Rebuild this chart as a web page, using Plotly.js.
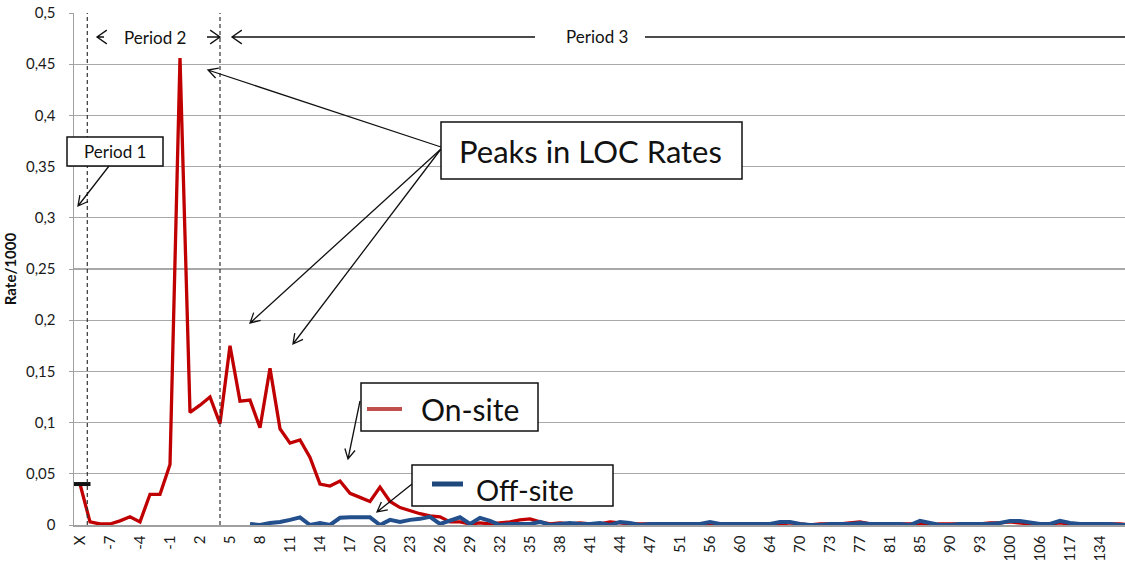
<!DOCTYPE html>
<html>
<head>
<meta charset="utf-8">
<script src="https://cdn.plot.ly/plotly-3.0.1.min.js"></script>
<style>html,body{margin:0;padding:0;background:#fff;}#chart{width:1125px;height:566px;}</style>
</head>
<body>
<div id="chart"></div>
<script>
// ---- data ----
const weekLabels = ["X","-9","-8","-7","-6","-5","-4","-3","-2","-1","0","1","2","3","4","5","6","7","8","9","10",
  "11","12","13","14","15","16","17","18","19","20","21","22","23","24","25","26","27","28","29","30",
  "31","32","33","34","35","36","37","38","39","40","41","42","43","44","45","46","47","48","49","51",
  "52","54","56","57","58","60","61","62","64","66","68","70","71","72","73","75","76","77","78","79",
  "81","82","83","85","87","88","90","91","92","93","95","97","100","102","104","106","110","113","117","121",
  "127","134","140","148","156"];
const onSite = [0.040,0.003,0.001,0.001,0.004,0.008,0.003,0.030,0.030,0.059,0.456,0.110,0.117,0.125,0.099,0.175,0.121,0.122,0.095,0.153,
  0.094,0.080,0.083,0.066,0.040,0.038,0.043,0.031,0.027,0.023,0.037,0.023,0.017,0.014,0.011,0.009,0.008,0.003,0.003,0.001,
  0.002,0.001,0.002,0.003,0.005,0.006,0.003,0.001,0.002,0.001,0.002,0.001,0.001,0.003,0.002,0.001,0.001,0.001,0.000,0.001,
  0.001,0.000,0.001,0.001,0.000,0.001,0.001,0.000,0.001,0.001,0.001,0.002,0.001,0.000,0.001,0.001,0.001,0.002,0.003,0.001,
  0.001,0.000,0.001,0.001,0.001,0.000,0.001,0.001,0.001,0.001,0.001,0.002,0.002,0.003,0.002,0.001,0.001,0.001,0.002,0.001,
  0.001,0.001,0.001,0.001,0.001,0.000];
const offSite = [null,null,null,null,null,null,null,null,null,null,null,null,null,null,null,null,null,0.001,0.000,0.002,
  0.003,0.005,0.0075,0.000,0.002,0.000,0.007,0.0075,0.0075,0.0075,0.000,0.005,0.003,0.005,0.006,0.008,0.001,0.004,0.0075,0.001,
  0.007,0.004,0.000,0.001,0.001,0.001,0.003,0.000,0.001,0.002,0.001,0.001,0.002,0.000,0.003,0.002,0.000,0.001,0.001,0.001,
  0.001,0.001,0.001,0.003,0.001,0.001,0.001,0.001,0.001,0.001,0.003,0.003,0.001,0.000,0.000,0.001,0.001,0.001,0.002,0.001,
  0.001,0.001,0.001,0.000,0.004,0.002,0.000,0.000,0.001,0.001,0.001,0.001,0.002,0.004,0.004,0.002,0.001,0.001,0.004,0.002,
  0.001,0.001,0.001,0.001,0.000,0.000];
const period1Label = ["X"];
const period1Rate = [0.04];
const yTicks = [0,0.05,0.1,0.15,0.2,0.25,0.3,0.35,0.4,0.45,0.5];
const xTicks = weekLabels.filter((_, i) => i % 3 === 0);
const periodBoundaries = [0.73, 14];

// ---- layout helpers (pixel -> paper) ----
const L = 74, T = 13, R = 0, B = 41;
const W = 1125 - L - R, H = 566 - T - B;
const px = x => (x - L) / W;
const py = y => 1 - (y - T) / H;

function arrow(x0, y0, x1, y1, len, half) {
  const a = Math.atan2(y1 - y0, x1 - x0);
  const phi = half * Math.PI / 180;
  const h1x = x1 - len * Math.cos(a - phi), h1y = y1 - len * Math.sin(a - phi);
  const h2x = x1 - len * Math.cos(a + phi), h2y = y1 - len * Math.sin(a + phi);
  return {
    type: 'path', xref: 'paper', yref: 'paper', layer: 'above',
    path: `M${px(x0)},${py(y0)} L${px(x1)},${py(y1)} M${px(h1x)},${py(h1y)} L${px(x1)},${py(y1)} L${px(h2x)},${py(h2y)}`,
    line: {color: '#111', width: 1.3}
  };
}
function box(x0, y0, x1, y1) {
  return {type: 'rect', xref: 'paper', yref: 'paper', layer: 'above',
    x0: px(x0), x1: px(x1), y0: py(y1), y1: py(y0),
    fillcolor: '#fff', line: {color: '#111', width: 1.5}};
}
function seg(x0, y0, x1, y1, color, width) {
  return {type: 'line', xref: 'paper', yref: 'paper', layer: 'above',
    x0: px(x0), x1: px(x1), y0: py(y0), y1: py(y1), line: {color: color, width: width}};
}
function label(x, y, text, size) {
  return {xref: 'paper', yref: 'paper', x: px(x), y: py(y), text: text, showarrow: false,
    xanchor: 'center', yanchor: 'middle', font: {family: 'Lato, sans-serif', size: size, color: '#111'}};
}

const traces = [
  {x: weekLabels, y: onSite, type: 'scatter', mode: 'lines', name: 'On-site',
   line: {color: '#c00000', width: 3.3}},
  {x: weekLabels, y: offSite, type: 'scatter', mode: 'lines', name: 'Off-site',
   line: {color: '#23508c', width: 4}},
  {x: period1Label, y: period1Rate, type: 'scatter', mode: 'markers', name: 'Period 1',
   marker: {symbol: 'line-ew', size: 15, line: {color: '#111', width: 4}}}
];

const shapes = [];
periodBoundaries.forEach(v => shapes.push({type: 'line', xref: 'x', yref: 'paper', x0: v, x1: v, y0: 0, y1: 1,
  line: {color: '#333', width: 1.2, dash: '4px,3px'}, layer: 'above'}));
// Period 2 / Period 3 arrows
shapes.push(arrow(104, 37, 97, 37, 12, 35));
shapes.push(arrow(207, 37, 220, 37, 12, 35));
shapes.push(arrow(535, 37, 232, 37, 12, 35));
shapes.push(seg(645, 37, 1125, 37, '#111', 1.3));
// Period 1
shapes.push(box(67, 137, 163, 166));
shapes.push(arrow(109, 166, 78, 206, 11, 28));
// Peaks
shapes.push(arrow(441, 147, 208, 70, 11, 28));
shapes.push(arrow(441, 149, 250, 323, 11, 28));
shapes.push(arrow(441, 149, 293, 344, 11, 28));
shapes.push(box(441, 122, 742, 179));
// On-site / Off-site boxes
shapes.push(arrow(360, 401, 348, 459, 11, 28));
shapes.push(box(361, 383, 538, 431));
shapes.push(seg(367, 409, 402, 409, '#c0504d', 4));
shapes.push(arrow(412, 484, 377, 512, 11, 28));
shapes.push(box(412, 465, 613, 506));
shapes.push(seg(432, 484, 463, 484, '#1f497d', 5));

const annotations = [
  label(155, 37, 'Period 2', 17),
  label(597, 36, 'Period 3', 17),
  label(115, 151, 'Period 1', 17),
  label(590, 151, 'Peaks in LOC Rates', 31),
  label(470, 409, 'On-site', 30),
  label(525, 489, 'Off-site', 29)
];

const layout = {
  width: 1125, height: 566,
  margin: {l: L, r: R, t: T, b: B, pad: 0},
  paper_bgcolor: '#fff', plot_bgcolor: '#fff',
  separators: ', ',
  showlegend: false,
  font: {family: 'Lato, sans-serif', size: 15, color: '#1a1a1a'},
  xaxis: {
    type: 'category', range: [-0.6, 104.5],
    tickmode: 'array', tickvals: xTicks, ticktext: xTicks,
    tickangle: -90, showgrid: false, zeroline: false,
    showline: true, linecolor: '#a0a0a0', linewidth: 1.5,
    ticks: '', ticklabelstandoff: 3,
    tickfont: {family: 'Lato, sans-serif', size: 15, color: '#1a1a1a'}
  },
  yaxis: {
    range: [0, 0.5], tickmode: 'array', tickvals: yTicks,
    showgrid: true, gridcolor: '#a8a8a8', gridwidth: 1.2,
    zeroline: false, showline: true, linecolor: '#a0a0a0', linewidth: 1.5,
    ticks: 'outside', ticklen: 4, tickcolor: '#a0a0a0', ticklabelstandoff: 10,
    tickfont: {family: 'Lato, sans-serif', size: 15, color: '#1a1a1a'},
    title: {text: 'Rate/1000', font: {family: 'Lato, sans-serif', size: 15, color: '#111', weight: 'bold'}, standoff: 5}
  },
  shapes: shapes,
  annotations: annotations
};

Plotly.newPlot('chart', traces, layout, {displayModeBar: false, staticPlot: true});
</script>
</body>
</html>
